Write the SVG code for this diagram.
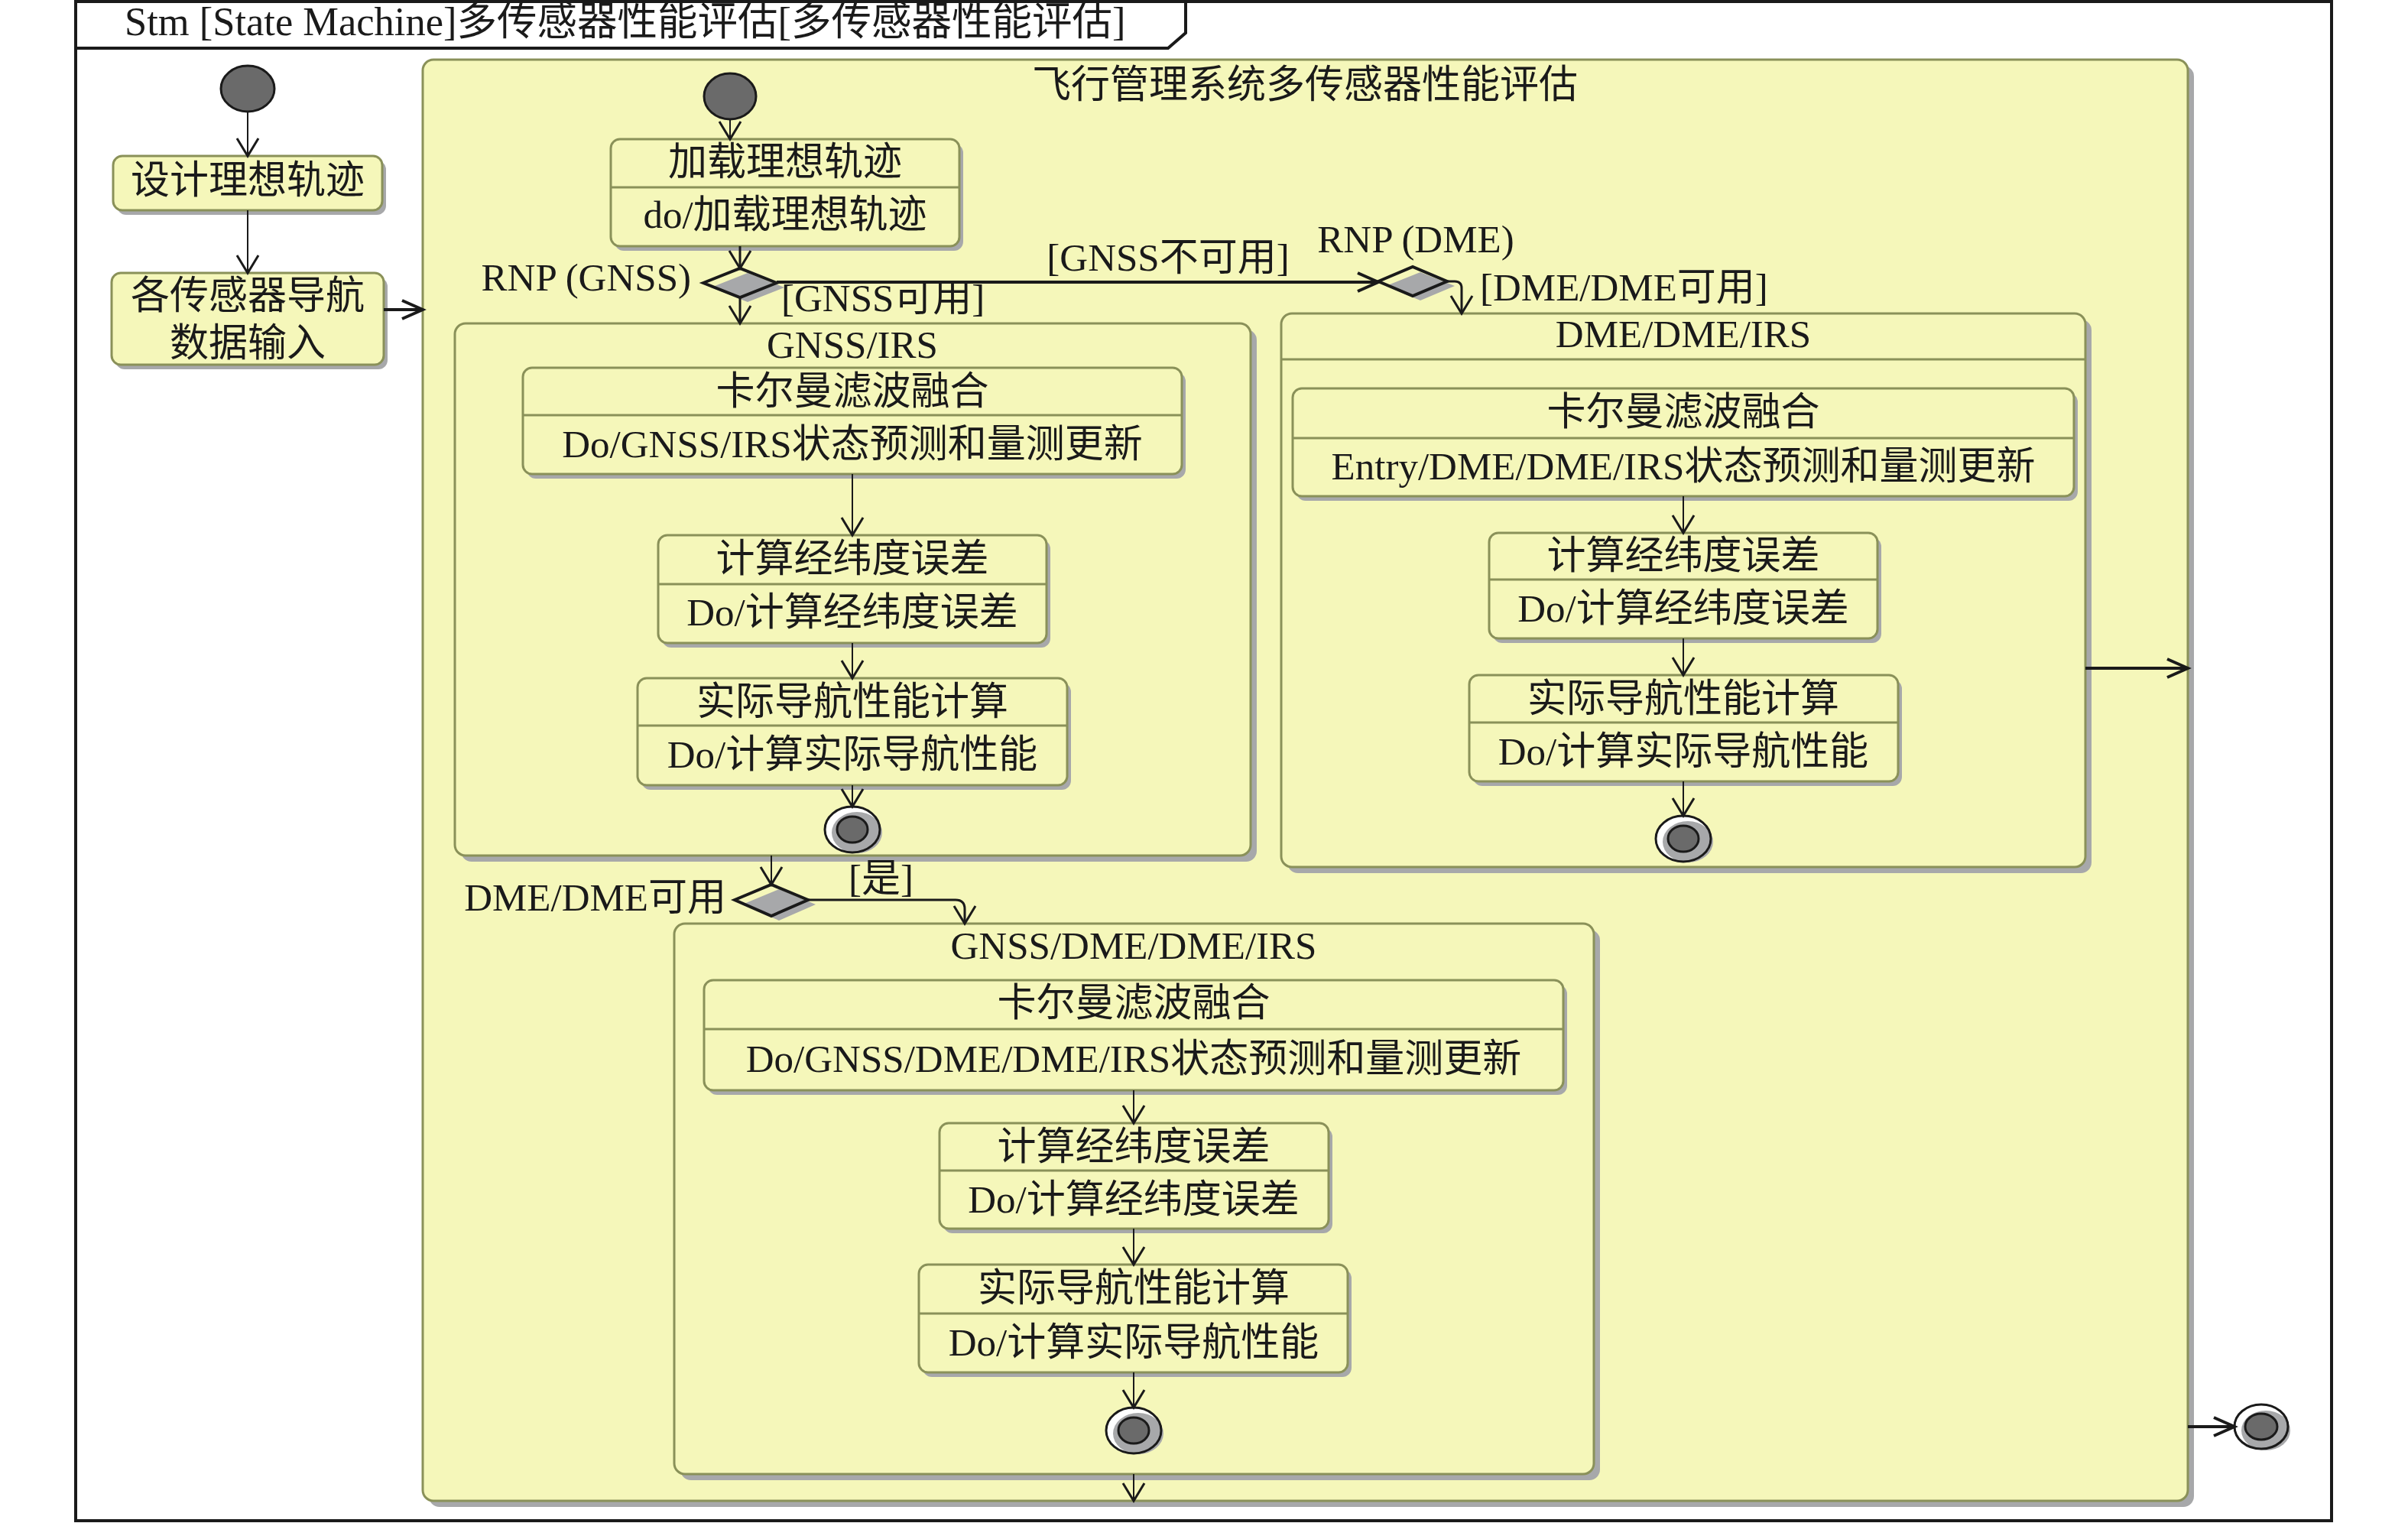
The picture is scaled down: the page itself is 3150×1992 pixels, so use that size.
<svg xmlns="http://www.w3.org/2000/svg" width="3150" height="1992" viewBox="0 0 3150 1992">
<style>
.st{fill:#F5F7BA;stroke:#8A9159;stroke-width:3}
.sh{fill:#A7A8AA}
.dv{stroke:#8A9159;stroke-width:3;fill:none}
.t{font-family:"Liberation Serif","Noto Sans CJK SC",serif;font-size:51px;fill:#1a1a1a;text-anchor:middle}
.ts{text-anchor:start}
.te{text-anchor:end}
.ln{fill:none;stroke:#1a1a1a;stroke-width:2;marker-end:url(#a)}
.lm{fill:none;stroke:#1a1a1a;stroke-width:3;marker-end:url(#a)}
.lb{fill:none;stroke:#1a1a1a;stroke-width:4;marker-end:url(#b)}
.ini{fill:#6A6A6A;stroke:#1a1a1a;stroke-width:3}
.dia{fill:none;stroke:#1a1a1a;stroke-width:4;stroke-linejoin:miter}
.fo{fill:none;stroke:#1a1a1a;stroke-width:3}
.fw{fill:#ffffff}
.fi{fill:#6A6A6A;stroke:#1a1a1a;stroke-width:3}
</style>
<defs>
<marker id="a" markerUnits="userSpaceOnUse" markerWidth="40" markerHeight="40" viewBox="-30 -20 40 40" refX="0" refY="0" orient="auto" overflow="visible"><path d="M-23,-14 L0,0 L-23,14" fill="none" stroke="#1a1a1a" stroke-width="3"/></marker>
<marker id="b" markerUnits="userSpaceOnUse" markerWidth="40" markerHeight="40" viewBox="-30 -20 40 40" refX="0" refY="0" orient="auto" overflow="visible"><path d="M-27,-12 L0,0 L-27,12" fill="none" stroke="#1a1a1a" stroke-width="4"/></marker>
</defs>
<rect width="3150" height="1992" fill="#ffffff"/>
<g id="frame">
<rect x="99" y="2" width="2951" height="1987" fill="none" stroke="#1a1a1a" stroke-width="4"/>
<path d="M99,63 L1528,63 L1551,43 L1551,2" fill="none" stroke="#1a1a1a" stroke-width="4"/>
<text class="t ts" x="163" y="46" style="font-size:52.5px">Stm [State Machine]多传感器性能评估[多传感器性能评估]</text>
</g>
<g id="init-left"><ellipse class="ini" cx="324" cy="116" rx="35" ry="30"/></g>
<g id="design">
<rect class="sh" x="153" y="210" width="352" height="71" rx="12"/>
<rect class="st" x="148" y="204" width="352" height="71" rx="12"/>
<text class="t" x="324" y="253">设计理想轨迹</text>
</g>
<g id="input">
<rect class="sh" x="151" y="363" width="356" height="120" rx="12"/>
<rect class="st" x="146" y="357" width="356" height="120" rx="12"/>
<text class="t" x="324" y="404">各传感器导航</text>
<text class="t" x="324" y="466">数据输入</text>
</g>
<g id="fms">
<rect class="sh" x="561" y="86" width="2309" height="1885" rx="14"/>
<rect class="st" x="553" y="78" width="2309" height="1885" rx="14"/>
<text class="t" x="1707" y="128">飞行管理系统多传感器性能评估</text>
</g>
<g id="init-inner"><ellipse class="ini" cx="955" cy="126" rx="34" ry="30"/></g>
<g id="load">
<rect class="sh" x="804" y="188" width="456" height="140" rx="12"/>
<rect class="st" x="799" y="182" width="456" height="140" rx="12"/>
<line class="dv" x1="799" y1="245" x2="1255" y2="245"/>
<text class="t" x="1027" y="229">加载理想轨迹</text>
<text class="t" x="1027" y="298">do/加载理想轨迹</text>
</g>
<g id="dec-gnss">
<path class="sh" d="M930,376 L978,357 L1026,376 L978,395 Z"/>
<path class="dia" d="M920,370 L968,351 L1016,370 L968,389 Z"/>
<text class="t te" x="904" y="380">RNP (GNSS)</text>
</g>
<g id="dec-dme">
<path class="sh" d="M1813,374 L1858,356 L1903,374 L1858,393 Z"/>
<path class="dia" d="M1803,368 L1848,349 L1893,368 L1848,387 Z"/>
<text class="t" x="1852" y="330">RNP (DME)</text>
</g>
<g id="gnss-irs">
<rect class="sh" x="603" y="431" width="1041" height="696" rx="14"/>
<rect class="st" x="595" y="423" width="1041" height="696" rx="14"/>
<text class="t" x="1115" y="468">GNSS/IRS</text>
</g>
<g id="gi-kalman">
<rect class="sh" x="689" y="487" width="862" height="139" rx="12"/>
<rect class="st" x="684" y="481" width="862" height="139" rx="12"/>
<line class="dv" x1="684" y1="543" x2="1546" y2="543"/>
<text class="t" x="1115" y="529">卡尔曼滤波融合</text>
<text class="t" x="1115" y="598">Do/GNSS/IRS状态预测和量测更新</text>
</g>
<g id="gi-err">
<rect class="sh" x="866" y="706" width="508" height="141" rx="12"/>
<rect class="st" x="861" y="700" width="508" height="141" rx="12"/>
<line class="dv" x1="861" y1="764" x2="1369" y2="764"/>
<text class="t" x="1115" y="748">计算经纬度误差</text>
<text class="t" x="1115" y="818">Do/计算经纬度误差</text>
</g>
<g id="gi-anp">
<rect class="sh" x="839" y="893" width="562" height="140" rx="12"/>
<rect class="st" x="834" y="887" width="562" height="140" rx="12"/>
<line class="dv" x1="834" y1="949" x2="1396" y2="949"/>
<text class="t" x="1115" y="935">实际导航性能计算</text>
<text class="t" x="1115" y="1004">Do/计算实际导航性能</text>
</g>
<g id="gi-final">
<ellipse class="fw" cx="1115" cy="1085" rx="36" ry="30"/>
<ellipse class="sh" cx="1121" cy="1089" rx="33" ry="27"/>
<ellipse class="fo" cx="1115" cy="1085" rx="36" ry="30"/>
<ellipse class="fi" cx="1115" cy="1085" rx="20" ry="17"/>
</g>
<g id="dme-dme-irs">
<rect class="sh" x="1684" y="418" width="1052" height="724" rx="14"/>
<rect class="st" x="1676" y="410" width="1052" height="724" rx="14"/>
<line class="dv" x1="1676" y1="470" x2="2728" y2="470"/>
<text class="t" x="2202" y="454">DME/DME/IRS</text>
</g>
<g id="dd-kalman">
<rect class="sh" x="1696" y="514" width="1022" height="141" rx="12"/>
<rect class="st" x="1691" y="508" width="1022" height="141" rx="12"/>
<line class="dv" x1="1691" y1="573" x2="2713" y2="573"/>
<text class="t" x="2202" y="556">卡尔曼滤波融合</text>
<text class="t" x="2202" y="627">Entry/DME/DME/IRS状态预测和量测更新</text>
</g>
<g id="dd-err">
<rect class="sh" x="1953" y="703" width="508" height="138" rx="12"/>
<rect class="st" x="1948" y="697" width="508" height="138" rx="12"/>
<line class="dv" x1="1948" y1="758" x2="2456" y2="758"/>
<text class="t" x="2202" y="744">计算经纬度误差</text>
<text class="t" x="2202" y="813">Do/计算经纬度误差</text>
</g>
<g id="dd-anp">
<rect class="sh" x="1927" y="889" width="561" height="139" rx="12"/>
<rect class="st" x="1922" y="883" width="561" height="139" rx="12"/>
<line class="dv" x1="1922" y1="945" x2="2483" y2="945"/>
<text class="t" x="2202" y="931">实际导航性能计算</text>
<text class="t" x="2202" y="1000">Do/计算实际导航性能</text>
</g>
<g id="dd-final">
<ellipse class="fw" cx="2202" cy="1097" rx="36" ry="30"/>
<ellipse class="sh" cx="2208" cy="1101" rx="33" ry="27"/>
<ellipse class="fo" cx="2202" cy="1097" rx="36" ry="30"/>
<ellipse class="fi" cx="2202" cy="1097" rx="20" ry="17"/>
</g>
<g id="dec-dd">
<path class="sh" d="M971,1183 L1019,1163 L1067,1183 L1019,1204 Z"/>
<path class="dia" d="M961,1177 L1009,1157 L1057,1177 L1009,1198 Z"/>
<text class="t te" x="950" y="1191">DME/DME可用</text>
</g>
<g id="gnss-dme-dme-irs">
<rect class="sh" x="890" y="1216" width="1203" height="720" rx="14"/>
<rect class="st" x="882" y="1208" width="1203" height="720" rx="14"/>
<text class="t" x="1483" y="1254">GNSS/DME/DME/IRS</text>
</g>
<g id="gd-kalman">
<rect class="sh" x="926" y="1288" width="1124" height="144" rx="12"/>
<rect class="st" x="921" y="1282" width="1124" height="144" rx="12"/>
<line class="dv" x1="921" y1="1346" x2="2045" y2="1346"/>
<text class="t" x="1483" y="1329">卡尔曼滤波融合</text>
<text class="t" x="1483" y="1402">Do/GNSS/DME/DME/IRS状态预测和量测更新</text>
</g>
<g id="gd-err">
<rect class="sh" x="1234" y="1475" width="509" height="138" rx="12"/>
<rect class="st" x="1229" y="1469" width="509" height="138" rx="12"/>
<line class="dv" x1="1229" y1="1531" x2="1738" y2="1531"/>
<text class="t" x="1483" y="1517">计算经纬度误差</text>
<text class="t" x="1483" y="1586">Do/计算经纬度误差</text>
</g>
<g id="gd-anp">
<rect class="sh" x="1207" y="1660" width="561" height="141" rx="12"/>
<rect class="st" x="1202" y="1654" width="561" height="141" rx="12"/>
<line class="dv" x1="1202" y1="1718" x2="1763" y2="1718"/>
<text class="t" x="1483" y="1702">实际导航性能计算</text>
<text class="t" x="1483" y="1773">Do/计算实际导航性能</text>
</g>
<g id="gd-final">
<ellipse class="fw" cx="1483" cy="1871" rx="36" ry="30"/>
<ellipse class="sh" cx="1489" cy="1875" rx="33" ry="27"/>
<ellipse class="fo" cx="1483" cy="1871" rx="36" ry="30"/>
<ellipse class="fi" cx="1483" cy="1871" rx="20" ry="17"/>
</g>
<g id="final-outer">
<ellipse class="fw" cx="2958" cy="1866" rx="35" ry="29"/>
<ellipse class="sh" cx="2964" cy="1871" rx="32" ry="26"/>
<ellipse class="fo" cx="2958" cy="1866" rx="35" ry="29"/>
<ellipse class="fi" cx="2958" cy="1866" rx="21" ry="17"/>
</g>
<g id="connectors">
<line class="ln" x1="324" y1="146" x2="324" y2="204"/>
<line class="ln" x1="324" y1="275" x2="324" y2="357"/>
<line class="lb" x1="502" y1="405" x2="553" y2="405"/>
<line class="ln" x1="955" y1="156" x2="955" y2="182"/>
<line class="lm" x1="968" y1="322" x2="968" y2="351"/>
<line class="lm" x1="968" y1="389" x2="968" y2="423"/>
<text class="t ts" x="1022" y="407">[GNSS可用]</text>
<line class="lb" x1="1016" y1="369" x2="1803" y2="369"/>
<text class="t" x="1528" y="354">[GNSS不可用]</text>
<path class="lm" d="M1893,368 L1903,368 Q1912,368 1912,377 L1912,410"/>
<text class="t ts" x="1936" y="393">[DME/DME可用]</text>
<line class="ln" x1="1115" y1="620" x2="1115" y2="700"/>
<line class="ln" x1="1115" y1="841" x2="1115" y2="887"/>
<line class="ln" x1="1115" y1="1027" x2="1115" y2="1055"/>
<line class="ln" x1="2202" y1="649" x2="2202" y2="697"/>
<line class="ln" x1="2202" y1="835" x2="2202" y2="883"/>
<line class="ln" x1="2202" y1="1022" x2="2202" y2="1067"/>
<line class="lb" x1="2728" y1="874" x2="2862" y2="874"/>
<line class="ln" x1="1009" y1="1119" x2="1009" y2="1157"/>
<path class="lm" d="M1057,1177 L1250,1177 Q1262,1177 1262,1189 L1262,1208"/>
<text class="t ts" x="1110" y="1166">[是]</text>
<line class="ln" x1="1483" y1="1426" x2="1483" y2="1469"/>
<line class="ln" x1="1483" y1="1607" x2="1483" y2="1654"/>
<line class="ln" x1="1483" y1="1795" x2="1483" y2="1841"/>
<line class="ln" x1="1483" y1="1928" x2="1483" y2="1963"/>
<line class="lb" x1="2862" y1="1866" x2="2923" y2="1866"/>
</g>
</svg>
